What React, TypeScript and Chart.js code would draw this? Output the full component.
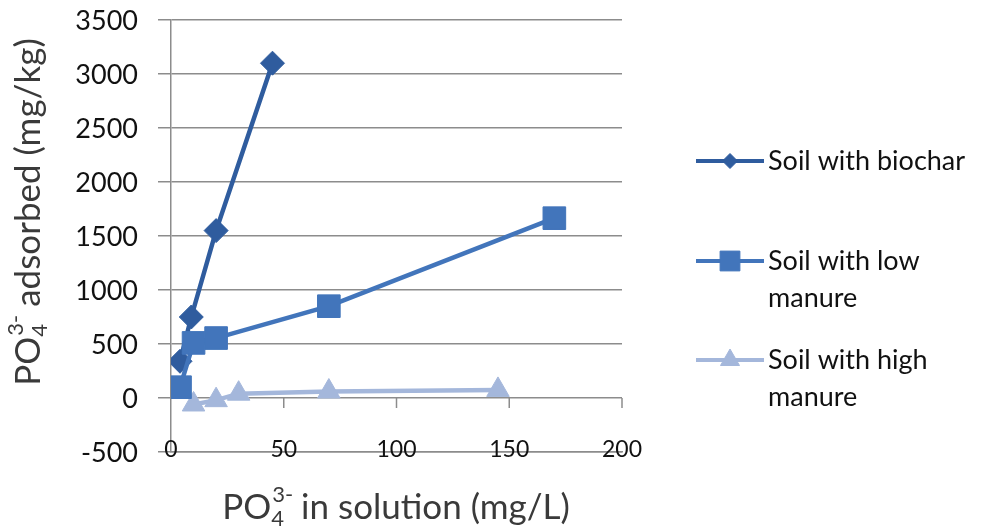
import React, { useEffect, useRef } from 'react';
import { Chart, registerables } from 'chart.js';
import { drawPoint } from 'chart.js/helpers';

Chart.register(...registerables);

// ---- data ----
const biocharX = [4, 9, 20, 45];
const biocharY = [340, 750, 1550, 3100];
const lowX = [4, 10, 20, 70, 170];
const lowY = [100, 510, 555, 850, 1665];
const highX = [10, 20, 30, 70, 145];
const highY = [-60, -20, 40, 60, 75];

const seriesNames = ['Soil with biochar', 'Soil with low manure', 'Soil with high manure'];
const legendLines = [['Soil with biochar'], ['Soil with low', 'manure'], ['Soil with high', 'manure']];
const xTickValues = [0, 50, 100, 150, 200];
const yRange = [-500, 3500];
const yStep = 500;
const xTitleRest = ' in solution (mg/L)';
const yTitleRest = ' adsorbed (mg/kg)';

const FONT = 'Lato';
const COLORS = ['#2f5c9e', '#4275bb', '#a4b7db'];
const STYLES = ['rectRot', 'rect', 'triangle'];
const RADII = [12, 16, 13];
const LEGEND_RADII = [7.5, 14, 11];

const zip = (xs: number[], ys: number[]) => xs.map((x, i) => ({ x, y: ys[i] }));

function drawTitle(ctx: CanvasRenderingContext2D, rest: string, size: number) {
  const big = `${size}px ${FONT}`;
  const small = `${Math.round(size * 0.62)}px ${FONT}`;
  ctx.font = big;
  const wPO = ctx.measureText('PO').width;
  const wRest = ctx.measureText(rest).width;
  ctx.font = small;
  const wSub = Math.max(ctx.measureText('4').width, ctx.measureText('3-').width);
  const total = wPO + wSub + wRest;
  let x = -total / 2;
  ctx.textBaseline = 'middle';
  ctx.textAlign = 'left';
  ctx.font = big;
  ctx.fillText('PO', x, 0);
  x += wPO;
  ctx.font = small;
  ctx.fillText('4', x, size * 0.3);
  ctx.fillText('3-', x + 1, -size * 0.38);
  x += wSub;
  ctx.font = big;
  ctx.fillText(rest, x, 0);
}

const extras = {
  id: 'extras',
  afterDraw(chart: any) {
    const ctx: CanvasRenderingContext2D = chart.ctx;
    const xs = chart.scales.x;
    const ys = chart.scales.y;
    const area = chart.chartArea;
    ctx.save();
    // x tick marks at y=0
    const y0 = ys.getPixelForValue(0);
    ctx.strokeStyle = '#8c8c8c';
    ctx.lineWidth = 1.5;
    xTickValues.forEach((v) => {
      if (v === 0) return;
      const px = xs.getPixelForValue(v);
      ctx.beginPath();
      ctx.moveTo(px, y0);
      ctx.lineTo(px, y0 + 10);
      ctx.stroke();
    });
    // tick labels
    ctx.fillStyle = '#111';
    ctx.textBaseline = 'middle';
    ctx.font = `27px ${FONT}`;
    ctx.textAlign = 'right';
    ys.ticks.forEach((t: any) => {
      ctx.fillText(String(t.value), area.left - 33, ys.getPixelForValue(t.value) + 1);
    });
    ctx.font = `23px ${FONT}`;
    ctx.textAlign = 'center';
    xTickValues.forEach((v) => {
      ctx.fillText(String(v), xs.getPixelForValue(v), area.bottom - 2);
    });
    // axis titles
    ctx.fillStyle = '#3a3a3a';
    ctx.save();
    ctx.translate(396, 508);
    drawTitle(ctx, xTitleRest, 35);
    ctx.restore();
    ctx.save();
    ctx.translate(29, 212);
    ctx.rotate(-Math.PI / 2);
    drawTitle(ctx, yTitleRest, 35);
    ctx.restore();
    // legend
    const lx0 = 696, lx1 = 764, tx = 768;
    const ly = [161, 261, 360];
    const lineGap = 37;
    legendLines.forEach((lines, i) => {
      const y = ly[i];
      ctx.strokeStyle = COLORS[i];
      ctx.lineWidth = 4;
      ctx.beginPath();
      ctx.moveTo(lx0, y);
      ctx.lineTo(lx1, y);
      ctx.stroke();
      ctx.fillStyle = COLORS[i];
      ctx.lineWidth = 1;
      drawPoint(ctx, { pointStyle: STYLES[i], radius: LEGEND_RADII[i], rotation: 0, borderWidth: 1 } as any, (lx0 + lx1) / 2, y);
      ctx.fillStyle = '#111';
      ctx.font = `27px ${FONT}`;
      ctx.textAlign = 'left';
      ctx.textBaseline = 'middle';
      lines.forEach((t, j) => ctx.fillText(t, tx, y + j * lineGap));
    });
    ctx.restore();
  },
};

export default function App() {
  const ref = useRef<HTMLCanvasElement>(null);
  useEffect(() => {
    if (!ref.current) return;
    const series = [zip(biocharX, biocharY), zip(lowX, lowY), zip(highX, highY)];
    const orders = [1, 0, 2];
    const chart = new Chart(ref.current, {
      type: 'scatter',
      data: {
        datasets: series.map((d, i) => ({
          label: seriesNames[i],
          data: d,
          showLine: true,
          borderColor: COLORS[i],
          backgroundColor: COLORS[i],
          borderWidth: 4.5,
          pointStyle: STYLES[i] as any,
          pointRadius: RADII[i],
          pointHoverRadius: RADII[i],
          pointBorderWidth: 1,
          pointBorderColor: COLORS[i],
          pointBackgroundColor: COLORS[i],
          order: orders[i],
        })),
      },
      options: {
        animation: false,
        responsive: false,
        layout: { padding: { left: 158, right: 376, top: 20, bottom: 79 } },
        plugins: { legend: { display: false }, tooltip: { enabled: false } },
        scales: {
          x: {
            type: 'linear',
            min: 0,
            max: 200,
            ticks: { stepSize: 50, display: false },
            grid: { display: false, drawTicks: false },
            border: { display: true, color: '#8c8c8c', width: 1.5 },
          },
          y: {
            type: 'linear',
            min: yRange[0],
            max: yRange[1],
            ticks: { stepSize: yStep, display: false },
            grid: { color: '#8c8c8c', lineWidth: 1.5, tickLength: 13, drawTicks: true },
            border: { display: true, color: '#8c8c8c', width: 1.5 },
          },
        },
      },
      plugins: [extras],
    });
    return () => chart.destroy();
  }, []);
  return (
    <div style={{ position: 'absolute', left: 0, top: 0, width: 998, height: 531, background: '#fff' }}>
      <canvas ref={ref} width={998} height={531} style={{ width: 998, height: 531, display: 'block' }} />
    </div>
  );
}
